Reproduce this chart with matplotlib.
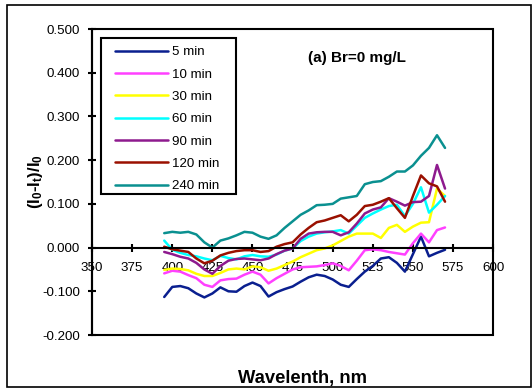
import numpy as np
import matplotlib.pyplot as plt
from matplotlib.patches import Rectangle

plt.rcParams["font.family"] = ["Liberation Sans", "DejaVu Sans"]
plt.rcParams["mathtext.fontset"] = "custom"
plt.rcParams["mathtext.rm"] = "Liberation Sans"
plt.rcParams["mathtext.bf"] = "Liberation Sans:bold"

WAVELENGTH = list(range(395, 575, 5))

MIN_5 = [-0.113, -0.090, -0.088, -0.093, -0.105, -0.114, -0.105, -0.091, -0.100,
         -0.101, -0.088, -0.080, -0.088, -0.112, -0.102, -0.095, -0.089, -0.078,
         -0.068, -0.062, -0.065, -0.073, -0.085, -0.090, -0.072, -0.055, -0.042,
         -0.025, -0.022, -0.035, -0.055, -0.015, 0.025, -0.020, -0.012, -0.005]
MIN_10 = [-0.059, -0.053, -0.055, -0.063, -0.070, -0.085, -0.090, -0.075, -0.072,
          -0.071, -0.062, -0.055, -0.062, -0.082, -0.070, -0.060, -0.050, -0.045,
          -0.044, -0.043, -0.040, -0.036, -0.042, -0.052, -0.030, -0.006, -0.004,
          -0.006, -0.010, -0.013, -0.016, 0.010, 0.032, 0.012, 0.040, 0.046]
MIN_30 = [-0.051, -0.048, -0.049, -0.052, -0.060, -0.065, -0.065, -0.058, -0.050,
          -0.048, -0.050, -0.043, -0.045, -0.053, -0.048, -0.040, -0.032, -0.022,
          -0.014, -0.006, -0.002, 0.005, 0.015, 0.025, 0.032, 0.032, 0.032,
          0.022, 0.045, 0.052, 0.036, 0.048, 0.057, 0.058, 0.135, 0.118]
MIN_60 = [0.016, -0.005, -0.012, -0.017, -0.020, -0.025, -0.029, -0.019, -0.024,
          -0.027, -0.020, -0.017, -0.020, -0.021, -0.016, -0.007, -0.002, 0.015,
          0.025, 0.032, 0.035, 0.037, 0.040, 0.032, 0.050, 0.068, 0.078,
          0.087, 0.095, 0.098, 0.072, 0.100, 0.138, 0.080, 0.098, 0.118]
MIN_90 = [-0.010, -0.015, -0.021, -0.025, -0.035, -0.050, -0.060, -0.042, -0.030,
          -0.026, -0.025, -0.027, -0.029, -0.025, -0.015, -0.007, -0.002, 0.020,
          0.032, 0.035, 0.036, 0.036, 0.028, 0.035, 0.055, 0.078, 0.087,
          0.092, 0.113, 0.105, 0.096, 0.104, 0.105, 0.118, 0.189, 0.135]
MIN_120 = [0.002, -0.004, -0.007, -0.010, -0.025, -0.036, -0.030, -0.018, -0.012,
           -0.008, -0.006, -0.006, -0.010, -0.008, 0.002, 0.008, 0.012, 0.030,
           0.045, 0.058, 0.062, 0.068, 0.074, 0.060, 0.075, 0.095, 0.098,
           0.105, 0.113, 0.090, 0.068, 0.118, 0.165, 0.147, 0.140, 0.105]
MIN_240 = [0.033, 0.036, 0.034, 0.036, 0.030, 0.012, 0.000, 0.016, 0.021,
           0.028, 0.036, 0.034, 0.025, 0.020, 0.028, 0.045, 0.060, 0.075,
           0.085, 0.097, 0.098, 0.100, 0.112, 0.115, 0.118, 0.145, 0.150,
           0.152, 0.162, 0.174, 0.174, 0.188, 0.210, 0.228, 0.257, 0.228]

SERIES = [
    ("5 min", MIN_5, "#0a1f8f"),
    ("10 min", MIN_10, "#ff40ff"),
    ("30 min", MIN_30, "#ffff00"),
    ("60 min", MIN_60, "#00ffff"),
    ("90 min", MIN_90, "#8e1a8e"),
    ("120 min", MIN_120, "#9a1000"),
    ("240 min", MIN_240, "#0a9090"),
]

X_TICKS = list(range(350, 625, 25))
Y_TICKS = [-0.2, -0.1, 0.0, 0.1, 0.2, 0.3, 0.4, 0.5]

fig = plt.figure(figsize=(5.32, 3.89), dpi=100)
ax = fig.add_axes([0.173, 0.1388, 0.754, 0.7866])

for name, values, color in SERIES:
    ax.plot(WAVELENGTH, values, color=color, lw=1.8, label=name,
            solid_joinstyle="round", solid_capstyle="round")

ax.set_xlim(350, 600)
ax.set_ylim(-0.2, 0.5)
ax.set_xticks(X_TICKS)
ax.set_yticks(Y_TICKS)
ax.set_xticklabels([str(t) for t in X_TICKS])
ax.set_yticklabels([f"{t:.3f}" for t in Y_TICKS])

for side in ["top", "right"]:
    ax.spines[side].set_visible(False)
ax.spines["bottom"].set_position(("data", 0))
ax.spines["bottom"].set_linewidth(1.5)
ax.spines["left"].set_linewidth(1.5)
ax.add_patch(Rectangle((0, 0), 1, 1, transform=ax.transAxes, fill=False,
                       lw=1.5, edgecolor="black", clip_on=False, zorder=5))

ax.tick_params(axis="both", direction="inout", length=5.8, width=1.5,
               labelsize=9.6, colors="black")
ax.tick_params(axis="x", pad=7.3)
ax.tick_params(axis="y", pad=5.6)

ax.set_ylabel(r"$\mathbf{(I_0}$-$\mathbf{I_t)/I_0}$", fontsize=12,
              fontweight="bold")
ax.yaxis.set_label_coords(-0.117, 0.5)

ax.text(515, 0.434, "(a) Br=0 mg/L", fontsize=11, fontweight="bold",
        ha="center", va="center")

# legend entries without a frame, box drawn separately
leg = ax.legend(loc="upper left", bbox_to_anchor=(0.057, 0.944),
                borderaxespad=0, frameon=False, fontsize=9.6,
                handlelength=4, handletextpad=0.3, labelspacing=0.75,
                borderpad=0)
ax.add_patch(Rectangle((0.0224, 0.461), 0.3366, 0.51, transform=ax.transAxes,
                       fill=False, lw=1.5, edgecolor="black", zorder=6))

fig.text(302 / 532, 1 - 379 / 389, "Wavelenth, nm", fontsize=13.2,
         fontweight="bold", ha="center", va="center")

fig.patches.append(Rectangle((7 / 532, 2 / 389), 523.5 / 532, 382 / 389,
                             transform=fig.transFigure, fill=False,
                             lw=1.2, edgecolor="black"))

fig.savefig("out.png", dpi=100)
